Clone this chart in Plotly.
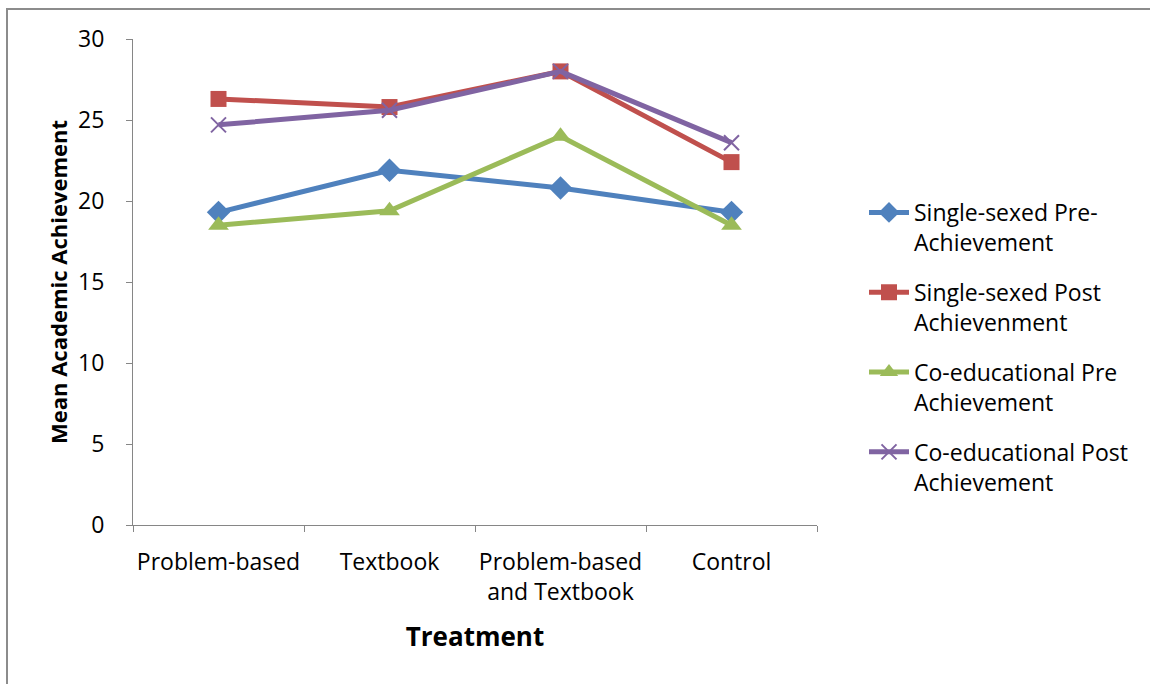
import plotly.graph_objects as go

# Treatment groups on the x axis
treatments = ["Problem-based", "Textbook", "Problem-based<br>and Textbook", "Control"]

# Mean academic achievement per group
single_pre = [19.3, 21.9, 20.8, 19.3]
single_post = [26.3, 25.8, 28.0, 22.4]
coed_pre = [18.5, 19.4, 24.0, 18.5]
coed_post = [24.7, 25.6, 28.0, 23.6]

series_names = [
    "Single-sexed Pre-<br>Achievement",
    "Single-sexed Post<br>Achievenment",
    "Co-educational Pre<br>Achievement",
    "Co-educational Post<br>Achievement",
]

FONT = "Open Sans"
W, H = 1150, 684
L, R, T, B = 133, 333, 39, 159

styles = [
    dict(color="#4F81BD", symbol="diamond", size=18, mline=0),
    dict(color="#C0504D", symbol="square", size=16, mline=0),
    dict(color="#9BBB59", symbol="triangle-up", size=18, mline=0),
    dict(color="#8064A2", symbol="x-thin", size=15, mline=2),
]

fig = go.Figure()
for i, (name, vals, st) in enumerate(zip(series_names, [single_pre, single_post, coed_pre, coed_post], styles)):
    fig.add_trace(go.Scatter(
        x=treatments, y=vals, name=name, mode="lines+markers",
        legendgroup=f"g{i}",
        line=dict(color=st["color"], width=5),
        marker=dict(symbol=st["symbol"], size=st["size"], color=st["color"],
                    line=dict(color=st["color"], width=st["mline"])),
        cliponaxis=False,
    ))

pw, ph = W - L - R, H - T - B

def px_x(p):
    return (p - L) / pw

def px_y(p):
    return (H - B - p) / ph

# outer chart frame
fig.add_shape(type="rect", xref="paper", yref="paper",
              x0=px_x(7), x1=px_x(1160), y0=px_y(9), y1=px_y(700),
              line=dict(color="#8c8c8c", width=2), fillcolor="rgba(0,0,0,0)", layer="below")

fig.update_layout(
    width=W, height=H,
    margin=dict(l=L, r=R, t=T, b=B, pad=0, autoexpand=False),
    paper_bgcolor="white", plot_bgcolor="white",
    font=dict(family=FONT, size=23, color="black"),
    showlegend=True,
    legend=dict(x=px_x(864), y=px_y(191), xanchor="left", yanchor="top",
                valign="top", font=dict(family=FONT, size=23, color="black"),
                tracegroupgap=17, itemwidth=40, bgcolor="rgba(0,0,0,0)"),
    xaxis=dict(
        type="category", tickson="boundaries", ticks="outside", ticklen=6,
        range=[-0.5, 3.5], tickangle=0, automargin=False,
        tickcolor="#868686", showline=True, linecolor="#868686", linewidth=1,
        showgrid=False, zeroline=False, ticklabelstandoff=16,
        tickfont=dict(family=FONT, size=23),
        title=dict(text="<b>Treatment</b>", font=dict(family=FONT, size=26), standoff=22),
    ),
    yaxis=dict(
        range=[0, 30], dtick=5, ticks="outside", ticklen=6, tickcolor="#868686",
        showline=True, linecolor="#868686", linewidth=1, showgrid=False, zeroline=False,
        automargin=False,
        tickfont=dict(family=FONT, size=23), ticklabelstandoff=17,
        title=dict(text="<b>Mean Academic Achievement</b>", font=dict(family=FONT, size=22), standoff=4),
    ),
)

fig.write_html("out.html")
